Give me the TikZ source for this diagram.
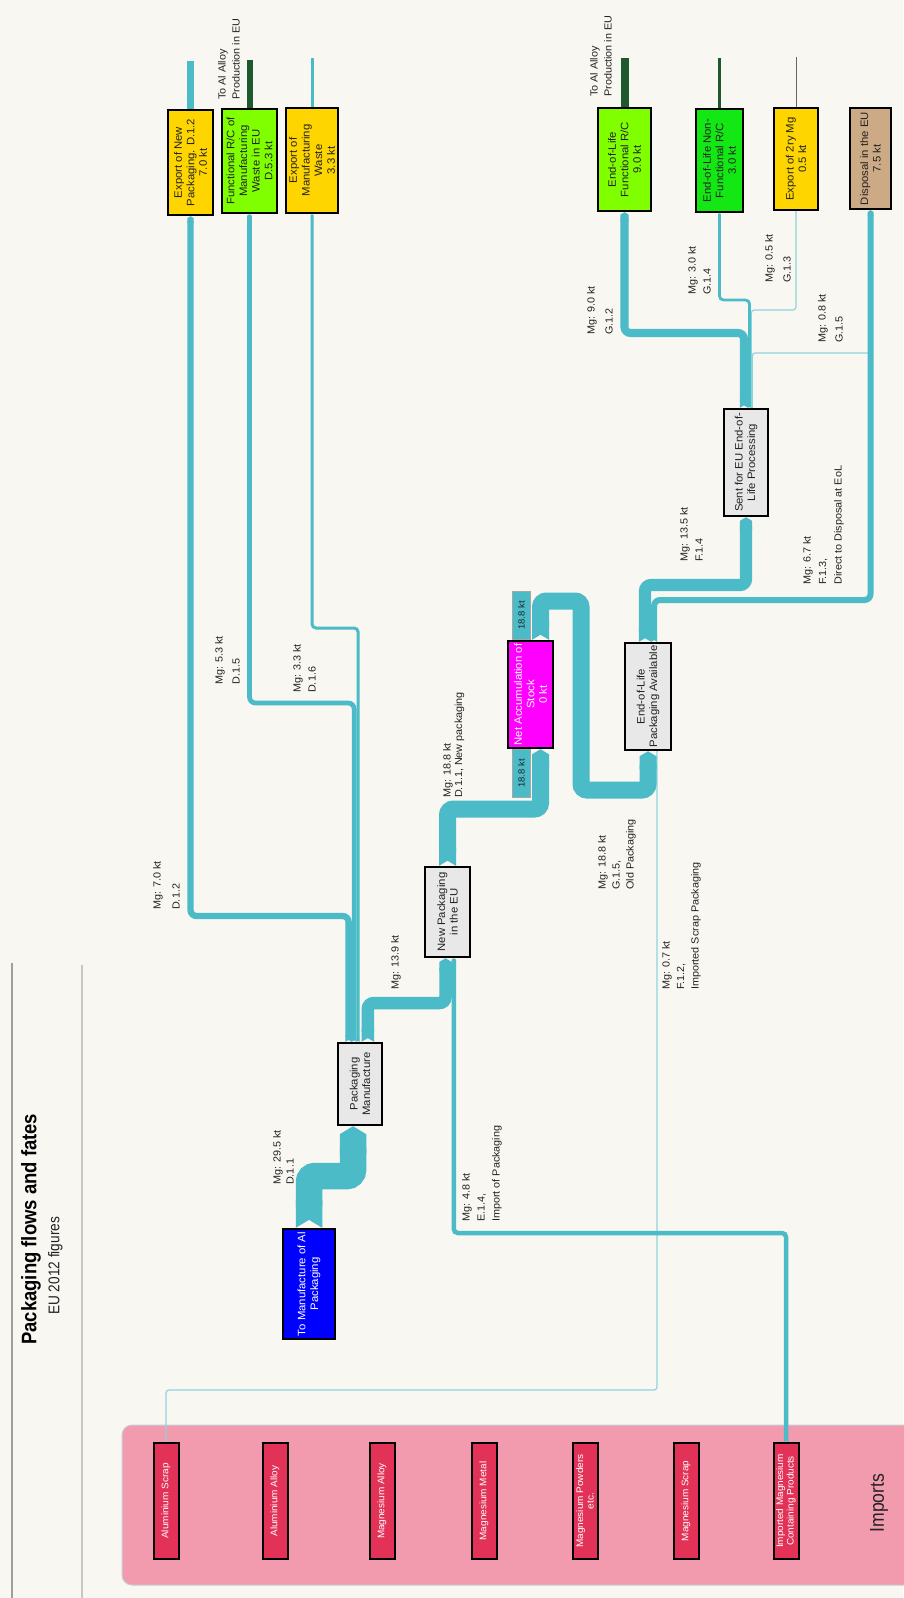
\documentclass[tikz,border=0pt]{standalone}
\usepackage{fontspec}
\setmainfont{Liberation Sans}[FakeStretch=1.05]
\newfontfamily\headfont{Liberation Sans}[FakeStretch=0.88]
\usetikzlibrary{positioning,calc,arrows.meta,backgrounds}

\definecolor{bgcream}{RGB}{249,247,242}
\definecolor{flowteal}{RGB}{75,187,200}
\definecolor{thinteal}{RGB}{140,212,220}
\definecolor{boxgray}{RGB}{232,232,232}
\definecolor{limegreen}{RGB}{128,255,0}
\definecolor{brightgreen}{RGB}{20,232,20}
\definecolor{pkggold}{RGB}{255,213,0}
\definecolor{pkgtan}{RGB}{205,170,134}
\definecolor{stockmagenta}{RGB}{255,0,255}
\definecolor{pkgblue}{RGB}{0,0,255}
\definecolor{importpink}{RGB}{242,155,175}
\definecolor{importred}{RGB}{226,50,88}
\definecolor{alloygreen}{RGB}{30,88,44}
\definecolor{txtdark}{RGB}{34,34,34}

\begin{document}
\begin{tikzpicture}[x=1pt,y=-1pt,
  procbox/.style={rectangle,draw=black,line width=2.4pt,fill=#1,rotate=90,align=center,
    inner sep=1pt,text=txtdark,font=\fontsize{10.8}{12.6}\selectfont},
  procbox/.default=boxgray,
  impbox/.style={rectangle,draw=black,line width=2pt,fill=importred,rotate=90,align=center,
    inner sep=1pt,minimum width=116pt,minimum height=25pt,text=white,font=\fontsize{9.5}{10.5}\selectfont},
  tabbox/.style={rectangle,draw=gray!70,line width=1pt,fill=flowteal,rotate=90,inner sep=0pt,
    minimum width=48pt,minimum height=18pt,text=txtdark,font=\fontsize{9}{10}\selectfont},
  band/.style={draw=flowteal,line width=#1,rounded corners=6pt,
    arrows={Triangle Cap[reversed,length=0pt .3]-Triangle Cap[length=0pt .3]}},
  thinflow/.style={draw=thinteal,line width=1.2pt,rounded corners=3pt},
  flowlbl/.style={rotate=90,anchor=north west,inner sep=0pt,align=left,text=txtdark,
    font=\fontsize{10.3}{#1}\selectfont},
  flowlbl/.default=13,
]
\useasboundingbox (0,0) rectangle (903,1598);

% === TITLE ===
\node[rotate=90,anchor=north west,inner sep=0pt,text=black,font=\headfont\bfseries\fontsize{21}{24}\selectfont] (title) at (21,1345) {Packaging flows and fates};
\node[rotate=90,anchor=north west,inner sep=0pt,text=txtdark,font=\headfont\fontsize{15.5}{18}\selectfont] (subtitle) at (48,1315) {EU 2012 figures};

% === IMPORTS ===
\node[impbox] (alscrap) at (166,1501) {Aluminium Scrap};
\node[impbox] (alalloy) at (275,1501) {Aluminium Alloy};
\node[impbox] (mgalloy) at (382,1501) {Magnesium Alloy};
\node[impbox] (mgmetal) at (484,1501) {Magnesium Metal};
\node[impbox] (mgpowder) at (585,1501) {Magnesium Powders\\etc.};
\node[impbox] (mgscrap) at (686,1501) {Magnesium Scrap};
\node[impbox] (impmg) at (786,1501) {Imported Magnesium\\Containing Products};
\node[rotate=90,text=txtdark,font=\headfont\fontsize{20}{22}\selectfont] (importslbl) at (879,1503) {Imports};

% === PROCESS BOXES ===
\node[procbox=pkgblue,text=white,minimum width=110pt,minimum height=52pt] (alpkg) at (309,1284) {To Manufacture of Al\\Packaging};
\node[procbox,minimum width=82pt,minimum height=44pt] (pkgmanuf) at (360,1084) {Packaging\\Manufacture};
\node[procbox,minimum width=90pt,minimum height=45pt] (newpkg) at (447.5,912) {New Packaging\\in the EU};
\node[procbox=stockmagenta,text=white,minimum width=107pt,minimum height=45pt] (netstock) at (530.5,694.5) {Net Accumulation of\\Stock\\0 kt};
\node[tabbox] (tabout) at (521.5,615.5) {18.8 kt};
\node[tabbox] (tabin) at (521.5,773.5) {18.8 kt};
\node[procbox,minimum width=107pt,minimum height=46pt] (eolavail) at (648,696.5) {End-of-Life\\Packaging Available};
\node[procbox,minimum width=107pt,minimum height=44pt] (eolsent) at (746,462.5) {Sent for EU End-of-\\Life Processing};

% === DESTINATIONS ===
\node[procbox=pkggold,minimum width=105pt,minimum height=45pt] (expnew) at (190.5,162.5) {Export of New\\Packaging. D.1.2\\7.0 kt};
\node[procbox=limegreen,minimum width=104pt,minimum height=55pt] (fnmfg) at (249.5,161) {Functional R/C of\\Manufacturing\\Waste in EU\\D.5.3 kt};
\node[procbox=pkggold,minimum width=105pt,minimum height=52pt] (expmfg) at (312,160.5) {Export of\\Manufacturing\\Waste\\3.3 kt};
\node[procbox=limegreen,minimum width=103pt,minimum height=53pt] (eolfn) at (624.5,159.5) {End-of-Life\\Functional R/C\\9.0 kt};
\node[procbox=brightgreen,minimum width=103pt,minimum height=47pt] (eolnf) at (719.5,160.5) {End-of-Life Non-\\Functional R/C\\3.0 kt};
\node[procbox=pkggold,minimum width=102pt,minimum height=44pt] (exp2ry) at (796,159) {Export of 2ry Mg\\0.5 kt};
\node[procbox=pkgtan,minimum width=101pt,minimum height=41pt] (disposal) at (870.5,158.5) {Disposal in the EU\\7.5 kt};

% free ends above the destinations
\coordinate (expnewout) at (190.5,61);
\coordinate (fnmfgout) at (249.5,60);
\coordinate (expmfgout) at (312,58);
\coordinate (eolfnout) at (624.5,58);
\coordinate (eolnfout) at (719.5,58);
\coordinate (exp2ryout) at (796,57);

% flow start points
\coordinate (s70) at ($(pkgmanuf.east)+(-11.4,0)$);
\coordinate (s53) at ($(pkgmanuf.east)+(-5.8,0)$);
\coordinate (s33) at ($(pkgmanuf.east)+(-1.9,0)$);
\coordinate (s139) at ($(pkgmanuf.east)+(7.8,0)$);
\coordinate (s188o) at ($(netstock.east)+(10,0)$);
\coordinate (s135) at ($(eolavail.east)+(-3,0)$);
\coordinate (s67) at ($(eolavail.east)+(6,0)$);
\coordinate (s90) at ($(eolsent.east)+(-2,0)$);
\coordinate (s30) at ($(eolsent.east)+(3.5,0)$);
\coordinate (s05) at ($(eolsent.east)+(5.3,0)$);
\coordinate (s08) at ($(eolsent.east)+(6.3,0)$);

% === FLOW LABELS ===
\node[flowlbl] (lbl295) at (273,1185) {Mg: 29.5 kt\\D.1.1};
\node[flowlbl=19] (lbl70) at (153,910) {Mg: 7.0 kt\\D.1.2};
\node[flowlbl=17] (lbl53) at (215,685) {Mg: 5.3 kt\\D.1.5};
\node[flowlbl=15] (lbl33) at (293,693) {Mg: 3.3 kt\\D.1.6};
\node[flowlbl] (lbl139) at (391,990) {Mg: 13.9 kt};
\node[flowlbl=11.5] (lbl188n) at (443,798) {Mg: 18.8 kt\\D.1.1, New packaging};
\node[flowlbl=14] (lbl188o) at (598,890) {Mg: 18.8 kt\\G.1.5,\\Old Packaging};
\node[flowlbl=14.5] (lbl07) at (662,990) {Mg: 0.7 kt\\F.1.2,\\Imported Scrap Packaging};
\node[flowlbl=15] (lbl48) at (462,1222) {Mg: 4.8 kt\\E.1.4,\\Import of Packaging};
\node[flowlbl=15] (lbl135) at (680,562) {Mg: 13.5 kt\\F.1.4};
\node[flowlbl=15.5] (lbl67) at (803,585) {Mg: 6.7 kt\\F.1.3,\\Direct to Disposal at EoL};
\node[flowlbl=18] (lbl90) at (587,335) {Mg: 9.0 kt\\G.1.2};
\node[flowlbl=15] (lbl30) at (688,295) {Mg: 3.0 kt\\G.1.4};
\node[flowlbl=18] (lbl05) at (765,283) {Mg: 0.5 kt\\G.1.3};
\node[flowlbl=17] (lbl08) at (818,343) {Mg: 0.8 kt\\G.1.5};
\node[flowlbl=14] (alloylblA) at (218,100) {To Al Alloy\\Production in EU};
\node[flowlbl=14] (alloylblB) at (590,97) {To Al Alloy\\Production in EU};

\begin{scope}[on background layer]
  \fill[bgcream] (0,0) rectangle (903,1598);
  % title rules
  \draw[gray!75,line width=1.5pt] (12,963) -- (12,1598);
  \draw[gray!45,line width=1.2pt] (82,965) -- (82,1598);
  % imports panel
  \draw[draw={rgb,255:red,196;green,206;blue,216},line width=1pt,fill=importpink,rounded corners=10pt] (122,1425) rectangle (930,1585);

  % thin flows
  \draw[thinflow] (alscrap.east) -- (alscrap.east |- 0,1390) -| ($(eolavail.west)+(9,0)$);
  \draw[thinflow] (s05) -- (s05 |- 0,310) -| (exp2ry.west);
  \draw[thinflow] (s08) -- (s08 |- 0,353) -| (disposal.west);

  % manufacture
  \draw[band=26.5pt] (alpkg.east) -- (alpkg.east |- 0,1176) -| ($(pkgmanuf.west)+(-7,0)$);
  \draw[band=6.3pt] (s70) -- (s70 |- 0,916) -| (expnew.west);
  \draw[band=4.8pt] (s53) -- (s53 |- 0,703) -| (fnmfg.west);
  \draw[band=3pt,rounded corners=4pt] (s33) -- (s33 |- 0,628) -| (expmfg.west);
  \draw[band=12.5pt] (s139) -- (s139 |- 0,1003) -| ($(newpkg.west)+(-2,0)$);
  \draw[band=4.5pt,rounded corners=4pt] (impmg.east) -- (impmg.east |- 0,1233) -| ($(newpkg.west)+(6.3,0)$);

  % use phase
  \draw[band=17pt] (newpkg.east) -- (newpkg.east |- 0,809) -| ($(netstock.west)+(10,0)$);
  \draw[band=17pt] (s188o) -- (s188o |- 0,601) -- (581,601) -- (581,790) -| (eolavail.west);

  % end of life
  \draw[band=6pt] (s67) -- (s67 |- 0,600) -| (disposal.west);
  \draw[band=12.2pt] (s135) -- (s135 |- 0,585) -| (eolsent.west);
  \draw[band=8.1pt] (s90) -- (s90 |- 0,333) -| (eolfn.west);
  \draw[band=2.8pt,rounded corners=4pt] (s30) -- (s30 |- 0,300) -| (eolnf.west);

  % onward lines
  \draw[flowteal,line width=6.3pt] (expnew.east) -- (expnewout);
  \draw[alloygreen,line width=6pt] (fnmfg.east) -- (fnmfgout);
  \draw[flowteal,line width=3pt] (expmfg.east) -- (expmfgout);
  \draw[alloygreen,line width=8pt] (eolfn.east) -- (eolfnout);
  \draw[alloygreen,line width=3.5pt] (eolnf.east) -- (eolnfout);
  \draw[gray!80!black,line width=1pt] (exp2ry.east) -- (exp2ryout);
\end{scope}
\end{tikzpicture}
\end{document}
